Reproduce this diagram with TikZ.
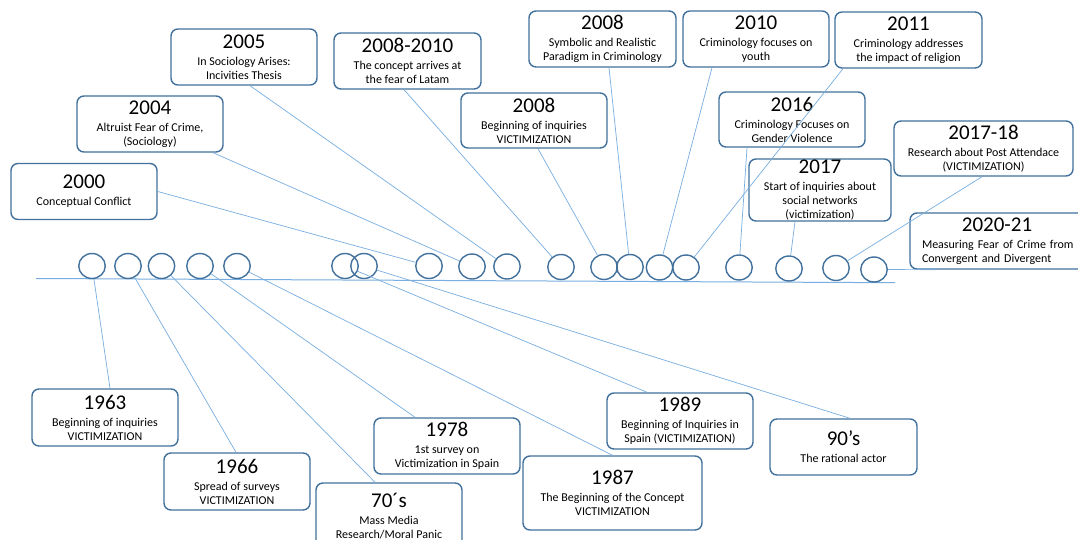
\documentclass[tikz,border=0pt]{standalone}
\usepackage{fontspec}
\setmainfont{Carlito}
\usetikzlibrary{shapes.geometric}
\definecolor{boxc}{HTML}{41719C}
\definecolor{linec}{HTML}{78AEE0}
\newcommand\yr[1]{{\fontsize{21}{21}\selectfont #1}}
\begin{document}
\begin{tikzpicture}[x=1pt,y=-1pt,
  box/.style={draw=boxc, line width=1.4, rounded corners=7, fill=white, align=center, inner sep=0, minimum width=146, minimum height=56, font=\fontsize{12}{14}\selectfont},
  dot/.style={ellipse, draw=boxc, line width=1.4, minimum width=26.5, minimum height=25, inner sep=0},
  conn/.style={draw=linec, line width=0.7}]
\fill[white] (0,0) rectangle (1078,540);
\clip (0,0) rectangle (1078,540);
% timeline
\coordinate (t0) at (36,278.5);
\coordinate (t1) at (895,282.7);
\draw[conn, line width=1] (t0) -- (t1);
% circles
\node[dot] (c1) at (92,266) {};
\node[dot] (c2) at (128,266) {};
\node[dot] (c3) at (161.5,266) {};
\node[dot] (c4) at (200,266) {};
\node[dot] (c5) at (237,266) {};
\node[dot] (c6) at (345,266) {};
\node[dot] (c7) at (364,266) {};
\node[dot] (c8) at (429,266) {};
\node[dot] (c9) at (472,266.5) {};
\node[dot] (c10) at (507,266.5) {};
\node[dot] (c11) at (561,267) {};
\node[dot] (c12) at (604,267) {};
\node[dot] (c13) at (630,267) {};
\node[dot] (c14) at (659.5,267.5) {};
\node[dot] (c15) at (686,267.5) {};
\node[dot] (c16) at (739,267.5) {};
\node[dot] (c17) at (789,268.5) {};
\node[dot] (c18) at (836,268) {};
\node[dot] (c19) at (874,269.5) {};
% top boxes
\node[box] (b2000) at (84,191.5) {\yr{2000}\\[3pt]Conceptual Conflict};
\node[box] (b2004) at (150,124) {\yr{2004}\\[3pt]Altruist Fear of Crime,\\(Sociology)};
\node[box] (b2005) at (244,57) {\yr{2005}\\[3pt]In Sociology Arises:\\Incivities Thesis};
\node[box, minimum width=147] (b0810) at (407.5,61) {\yr{2008-2010}\\[3pt]The concept arrives at\\the fear of Latam};
\node[box, minimum width=147] (b2008s) at (602.5,39) {\yr{2008}\\[3pt]Symbolic and Realistic\\Paradigm in Criminology};
\node[box, minimum height=55] (b2008b) at (534,120.5) {\yr{2008}\\[3pt]Beginning of inquiries\\VICTIMIZATION};
\node[box] (b2010) at (756,39) {\yr{2010}\\[3pt]Criminology focuses on\\youth};
\node[box, minimum width=147] (b2011) at (908.5,40) {\yr{2011}\\[3pt]Criminology addresses\\the impact of religion};
\node[box, minimum height=55] (b2016) at (792,119.5) {\yr{2016}\\[3pt]Criminology Focuses on\\Gender Violence};
\node[box, minimum width=142, minimum height=62] (b2017) at (820,190) {\yr{2017}\\[3pt]Start of inquiries about\\social networks\\(victimization)};
\node[box, minimum width=179, minimum height=55] (b1718) at (983.5,148.5) {\yr{2017-18}\\[3pt]Research about Post Attendace\\(VICTIMIZATION)};
\node[box, minimum width=180, text width=156, align=left] (b2021) at (1000,241) {\makebox[150pt]{\yr{2020-21}}\\[3pt]Measuring Fear of Crime from\\Convergent and Divergent};
% bottom boxes
\node[box, minimum height=57] (b1963) at (105,417.5) {\yr{1963}\\[3pt]Beginning of inquiries\\VICTIMIZATION};
\node[box, minimum height=57] (b1966) at (237,481.5) {\yr{1966}\\[3pt]Spread of surveys\\VICTIMIZATION};
\node[box, minimum height=66] (b70) at (389,516) {\yr{70´s}\\[3pt]Mass Media\\Research/Moral Panic};
\node[box] (b1978) at (447,446) {\yr{1978}\\[3pt]1st survey on\\Victimization in Spain};
\node[box, minimum width=179, minimum height=74] (b1987) at (612.5,493) {\yr{1987}\\[3pt]The Beginning of the Concept\\VICTIMIZATION};
\node[box] (b1989) at (680,421) {\yr{1989}\\[3pt]Beginning of Inquiries in\\Spain (VICTIMIZATION)};
\node[box, minimum width=147] (b90) at (843.5,447) {\yr{90’s}\\[3pt]The rational actor};
% connectors top
\draw[conn] (b2000.east) -- (c8);
\draw[conn] ([xshift=63]b2004.south) -- (c9);
\draw[conn] ([xshift=6]b2005.south) -- (c10);
\draw[conn] ([xshift=-3.5]b0810.south) -- (c11);
\draw[conn] ([xshift=4]b2008b.south) -- (c12);
\draw[conn] ([xshift=6.5]b2008s.south) -- (c13);
\draw[conn] ([xshift=-44]b2010.south) -- (c14);
\draw[conn] ([xshift=-65.5]b2011.south) -- (c15);
\draw[conn] ([xshift=-45]b2016.south) -- (c16);
\draw[conn] ([xshift=-25]b2017.south) -- (c17);
\draw[conn] ([xshift=-1.5]b1718.south) -- (c18);
\draw[conn] (c19) -- ([xshift=-63]b2021.south);
% connectors bottom
\draw[conn] (c1) -- ([xshift=5]b1963.north);
\draw[conn] (c2) -- ([xshift=-1]b1966.north);
\draw[conn] (c3) -- ([xshift=-14]b70.north);
\draw[conn] (c4) -- ([xshift=-32]b1978.north);
\draw[conn] (c5) -- (b1987.north);
\draw[conn] (c6) -- ([xshift=-33]b1989.north);
\draw[conn] (c7) -- ([xshift=6.5]b90.north);
\end{tikzpicture}
\end{document}
